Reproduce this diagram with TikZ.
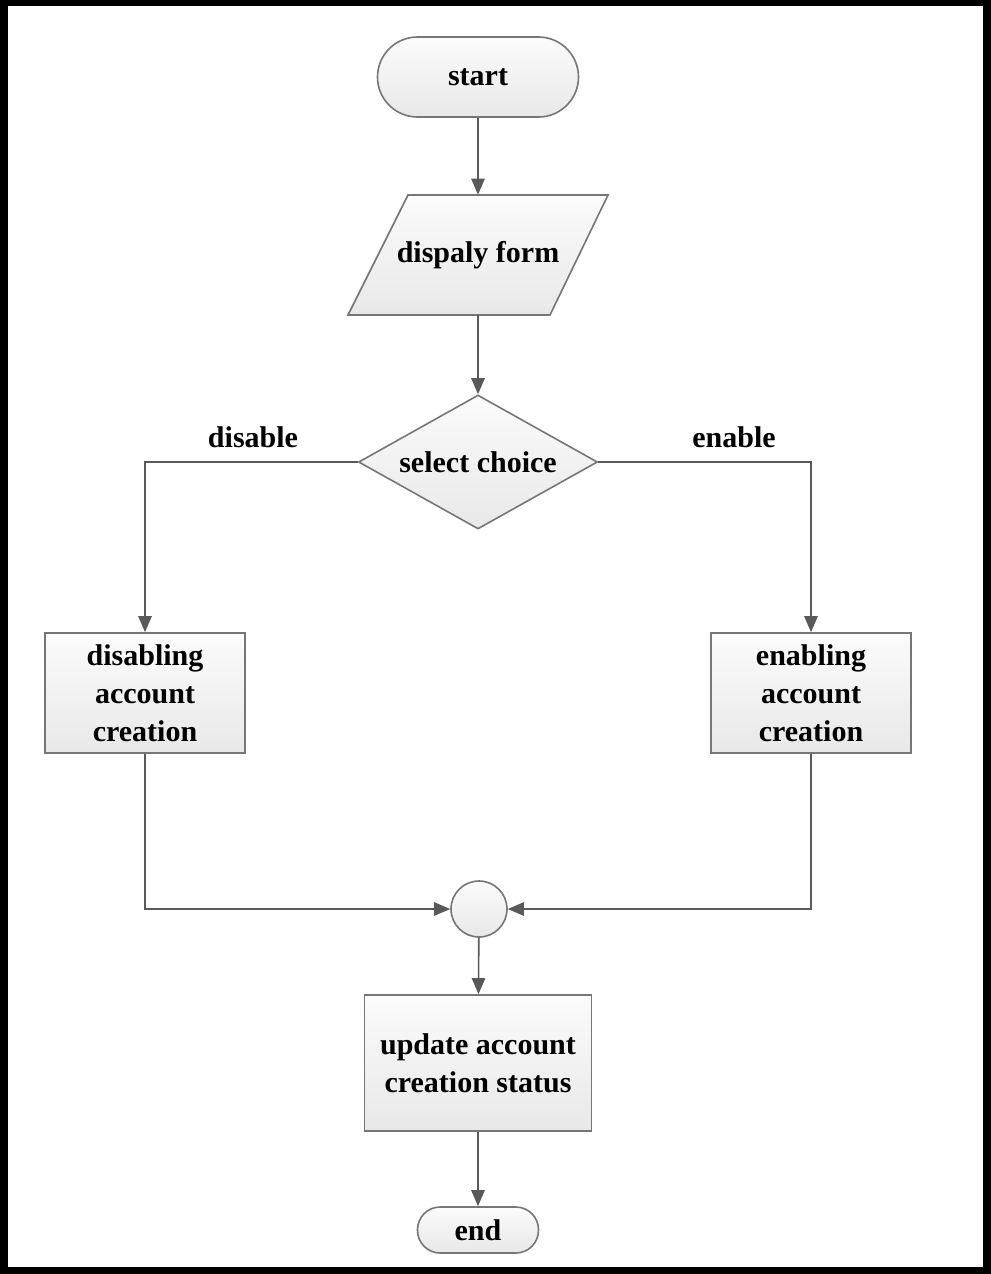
\documentclass[tikz,border=0pt]{standalone}
\usepackage{fontspec}
\setmainfont{Liberation Serif}
\usetikzlibrary{shapes.geometric,arrows.meta}
\definecolor{edgegray}{RGB}{89,89,89}
\definecolor{outlinegray}{RGB}{118,118,118}
\definecolor{shadetop}{RGB}{251,251,251}
\definecolor{shadebot}{RGB}{232,232,232}
\begin{document}
\begin{tikzpicture}[x=0.75pt,y=-0.75pt,
  txt/.style={font=\fontsize{22.5}{28.5}\selectfont\bfseries, text=black},
  shapebase/.style={txt, draw=outlinegray, line width=1.2pt,
    top color=shadetop, bottom color=shadebot, align=center, inner sep=0pt},
  terminal/.style={shapebase, rectangle, rounded corners=#1},
  procbox/.style={shapebase, rectangle},
  decision/.style={shapebase, diamond, aspect=1.78},
  joint/.style={shapebase, circle, minimum size=42pt},
  conn/.style={draw=edgegray, line width=1.2pt,
    -{Triangle[length=12pt,width=10pt]}},
  lbl/.style={txt, inner sep=0pt}
]
% frame
\fill[black] (0,0) rectangle (991,1274);
\fill[white] (8,6) rectangle (983,1267);

% nodes
\node[terminal=30pt, minimum width=150.75pt, minimum height=60pt] (start) at (478,77) {start};
\node[txt, minimum width=150pt, minimum height=90pt, inner sep=0pt] (form) at (478,255) {};
\fill[top color=shadetop, bottom color=shadebot, draw=outlinegray, line width=1.2pt]
  (408,195) -- (608,195) -- (550,315) -- (348,315) -- cycle;
\node[txt] at (478,255) {dispaly form};
\node[decision, minimum width=179.25pt, minimum height=100.5pt] (choice) at (478,462) {select choice};
\node[procbox, minimum width=150pt, minimum height=90pt] (dis) at (145,693) {disabling\\account\\creation};
\node[procbox, minimum width=150pt, minimum height=90pt] (ena) at (811,693) {enabling\\account\\creation};
\node[joint] (join) at (479,909) {};
\node[procbox, minimum width=170.25pt, minimum height=102pt] (upd) at (478,1063) {update account\\creation status};
\node[terminal=17pt, minimum width=90.75pt, minimum height=34.5pt] (end) at (478,1230) {end};

% branch labels
\node[lbl] (ldis) at (253,437) {disable};
\node[lbl] (lena) at (734,437) {enable};

% connectors
\draw[conn] (start) -- (form);
\draw[conn] (form) -- (choice);
\draw[conn] (choice.west) -| (dis.north);
\draw[conn] (choice.east) -| (ena.north);
\draw[conn] (dis.south) |- (join.west);
\draw[conn] (ena.south) |- (join.east);
\draw[conn] (join) -- (upd);
\draw[conn] (upd) -- (end);
\end{tikzpicture}
\end{document}
